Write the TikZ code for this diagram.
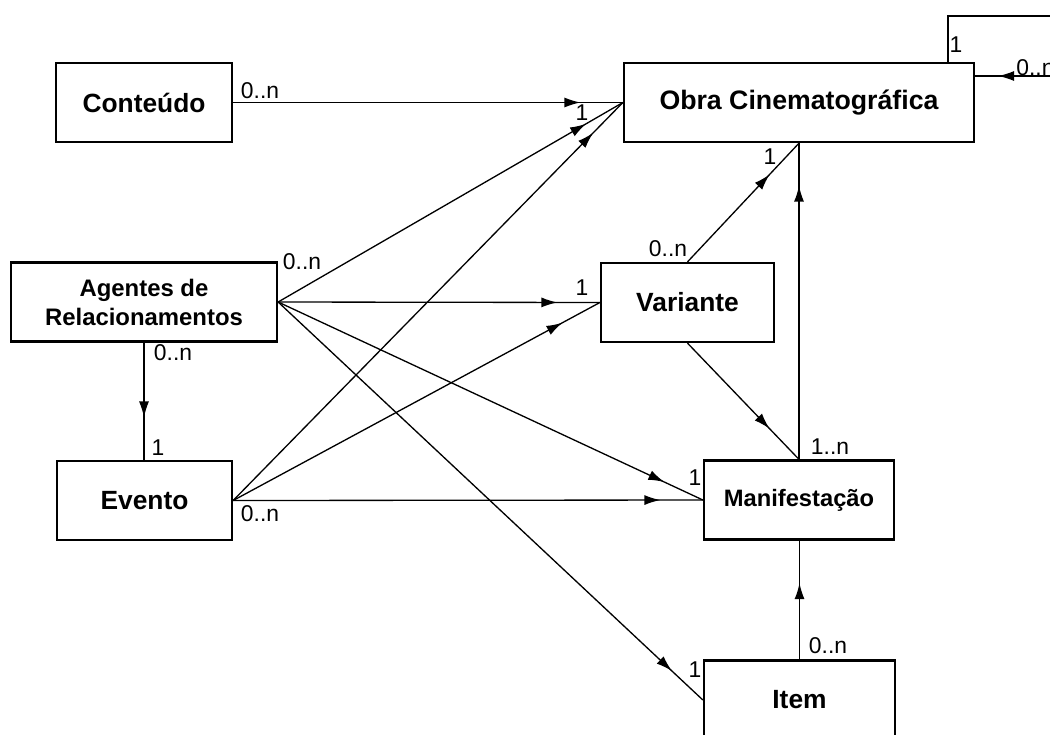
\documentclass[tikz,border=0pt]{standalone}
\usepackage{fontspec}
\setmainfont{Liberation Sans}
\usetikzlibrary{positioning, arrows.meta, calc, decorations.markings}

\begin{document}
\begin{tikzpicture}[
        x=0.02cm, y=-0.02cm,
        every node/.style={font=\fontsize{13}{15}\selectfont},
        entity/.style={draw, line width=1.3pt, minimum height=1.58cm,
                       align=center, inner sep=2pt,
                       font=\bfseries\fontsize{15}{17.5}\selectfont},
        card/.style={inner sep=0pt, font=\fontsize{13}{15}\selectfont},
        assoc/.style={line width=0.75pt, postaction={decorate},
                      decoration={markings, mark=at position -0.85cm with
                        {\arrow{Latex[length=3.2mm,width=2mm]}}}},
        selfassoc/.style={line width=0.75pt, postaction={decorate},
                      decoration={markings, mark=at position -0.46cm with
                        {\arrow{Latex[length=3.2mm,width=2mm]}}}},
      ]
      \useasboundingbox (0,0) rectangle (1050,734);

      % entities
      \node[entity, minimum width=3.52cm] (conteudo) at (144,102.5) {Conteúdo};
      \node[entity, minimum width=7cm, font=\bfseries\fontsize{15.2}{18}\selectfont]
        (obra) at (799,102.5) {Obra Cinematográfica};
      \node[entity, minimum width=5.32cm, font=\bfseries\fontsize{13.6}{16.5}\selectfont]
        (agentes) at (144,302) {Agentes de\\Relacionamentos};
      \node[entity, minimum width=3.46cm] (variante) at (687.5,302.5) {Variante};
      \node[entity, minimum width=3.5cm] (evento) at (144.5,500.5) {Evento};
      \node[entity, minimum width=3.8cm, font=\bfseries\fontsize{13.5}{16}\selectfont]
        (manif) at (799,500) {Manifestação};
      \node[entity, minimum width=3.82cm] (item) at (799.5,700) {Item};

      % associations
      \draw[assoc] (conteudo.east) -- (obra.west);
      \draw[assoc] (agentes.east) -- (obra.west);
      \draw[assoc] (evento.east) -- (obra.west);
      \draw[assoc] (agentes.east) -- (variante.west);
      \draw[assoc] (evento.east) -- (variante.west);
      \draw[assoc] (agentes.east) -- (manif.west);
      \draw[assoc] (evento.east) -- (manif.west);
      \draw[assoc] (agentes.east) -- (item.west);
      \draw[assoc] (agentes.south) -- (agentes.south |- evento.north);
      \draw[assoc] (variante.north) -- (obra.south);
      \draw[assoc] (variante.south) -- (manif.north);
      \draw[assoc] (manif.north) -- (obra.south);
      \draw[assoc] (item.north) -- (item.north |- manif.south);

      % self association of the work
      \coordinate (loopup) at ($(obra.north east)+(90,-46)$);
      \draw[selfassoc] ($(obra.north east)+(-27,0)$) |- (loopup)
        |- ($(obra.east)+(0,-26.5)$);

      % cardinalities
      \node[card] (c1) at (260,91) {0..n};
      \node[card] (c2) at (582,113) {1};
      \node[card] (c3) at (956,45) {1};
      \node[card, anchor=west] (c4) at (1016,68) {0..n};
      \node[card] (c5) at (302,262) {0..n};
      \node[card] (c6) at (173,353) {0..n};
      \node[card] (c7) at (158,448) {1};
      \node[card] (c8) at (260,514) {0..n};
      \node[card] (c9) at (582,288) {1};
      \node[card] (c10) at (668,249) {0..n};
      \node[card] (c11) at (770,157) {1};
      \node[card] (c12) at (830,447) {1..n};
      \node[card] (c13) at (695,478) {1};
      \node[card] (c14) at (695,670) {1};
      \node[card] (c15) at (828,646) {0..n};
    \end{tikzpicture}
\end{document}
